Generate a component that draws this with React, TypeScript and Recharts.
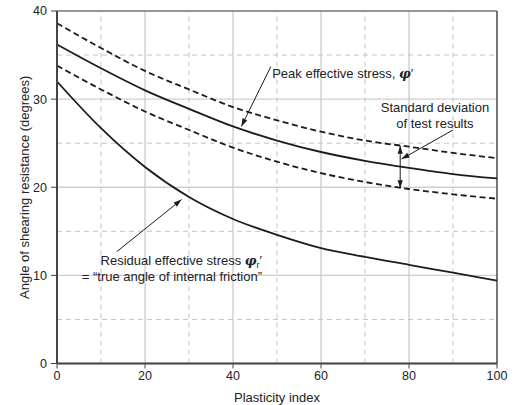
import React from 'react'
import {
  LineChart,
  Line,
  XAxis,
  YAxis,
  CartesianGrid,
  ReferenceLine,
  ReferenceDot,
} from 'recharts'

// plasticity index (x) and angle of shearing resistance in degrees (y)
const plasticity = [0, 10, 20, 30, 40, 50, 60, 70, 80, 90, 100]
const peakUpper = [38.6, 35.8, 33.2, 31.1, 29.1, 27.6, 26.3, 25.3, 24.6, 23.9, 23.3]
const peak = [36.2, 33.5, 31.0, 28.9, 26.9, 25.3, 24.0, 23.0, 22.2, 21.5, 21.0]
const peakLower = [33.8, 31.1, 28.6, 26.5, 24.5, 22.9, 21.6, 20.6, 19.8, 19.2, 18.7]
const residual = [32.0, 26.7, 22.3, 18.9, 16.4, 14.6, 13.1, 12.1, 11.2, 10.3, 9.4]

const xTicks = [0, 20, 40, 60, 80, 100]
const yTicks = [0, 10, 20, 30, 40]
const xMinor = [10, 30, 50, 70, 90]
const yMinor = [5, 15, 25, 35]

const data = plasticity.map((pi, i) => ({
  pi,
  upper: peakUpper[i],
  peak: peak[i],
  lower: peakLower[i],
  residual: residual[i],
}))

const INK = '#1c1c1c'
const FONT = '"Liberation Sans", Arial, Helvetica, sans-serif'

function head(x: number, y: number, fromX: number, fromY: number) {
  const a = Math.atan2(y - fromY, x - fromX)
  const len = 8
  const w = 2.6
  const bx = x - len * Math.cos(a)
  const by = y - len * Math.sin(a)
  const px = -Math.sin(a) * w
  const py = Math.cos(a) * w
  return `${x},${y} ${bx + px},${by + py} ${bx - px},${by - py}`
}

const arrowShape = (both: boolean) =>
  // eslint-disable-next-line @typescript-eslint/no-explicit-any
  (p: any) => {
    const { x1, y1, x2, y2 } = p
    return (
      <g>
        <line x1={x1} y1={y1} x2={x2} y2={y2} stroke={INK} strokeWidth={1} />
        <polygon points={head(x2, y2, x1, y1)} fill={INK} />
        {both && <polygon points={head(x1, y1, x2, y2)} fill={INK} />}
      </g>
    )
  }

const note =
  (lines: React.ReactNode[], anchor: 'start' | 'middle' | 'end', gap: number) =>
  // eslint-disable-next-line @typescript-eslint/no-explicit-any
  (p: any) => (
    <text x={p.cx} y={p.cy} textAnchor={anchor} fontSize={13} fill="#222" fontFamily={FONT}>
      {lines.map((l, i) => (
        <tspan key={i} x={p.cx} dy={i === 0 ? 0 : gap}>
          {l}
        </tspan>
      ))}
    </text>
  )

const phi = (
  <tspan fontStyle="italic" fontWeight="bold" fontFamily='"DejaVu Serif", serif'>
    φ
  </tspan>
)

export default function App() {
  return (
    <div style={{ position: 'absolute', left: 0, top: 0, background: '#fff' }}>
      <LineChart
        width={513}
        height={405}
        data={data}
        margin={{ top: 11, right: 16, left: 17, bottom: 0 }}
        style={{ fontFamily: FONT }}
      >
        <CartesianGrid stroke="#cfcfcf" strokeWidth={1.4} />
        {xMinor.map((v) => (
          <ReferenceLine key={`x${v}`} x={v} stroke="#c4c4c4" strokeDasharray="5 4" />
        ))}
        {yMinor.map((v) => (
          <ReferenceLine key={`y${v}`} y={v} stroke="#c4c4c4" strokeDasharray="5 4" />
        ))}
        <XAxis
          dataKey="pi"
          type="number"
          domain={[0, 100]}
          ticks={xTicks}
          height={41.5}
          tickSize={5}
          tickMargin={3}
          tick={{ fontSize: 12.5, fill: '#222' }}
          axisLine={{ stroke: '#444', strokeWidth: 2 }}
          tickLine={{ stroke: '#444' }}
          label={{
            value: 'Plasticity index',
            position: 'insideBottom',
            offset: 3,
            fontSize: 13,
            fill: '#222',
          }}
        />
        <YAxis
          type="number"
          domain={[0, 40]}
          ticks={yTicks}
          width={40}
          tickSize={6}
          tickMargin={4}
          tick={{ fontSize: 12.5, fill: '#222' }}
          axisLine={{ stroke: '#444', strokeWidth: 2 }}
          tickLine={{ stroke: '#444' }}
          label={{
            value: 'Angle of shearing resistance (degrees)',
            angle: -90,
            position: 'insideLeft',
            offset: 0,
            dx: 7,
            style: { textAnchor: 'middle' },
            fontSize: 13,
            fill: '#222',
          }}
        />
        <ReferenceLine y={40} stroke="#555" strokeWidth={1.2} />
        <ReferenceLine x={100} stroke="#555" strokeWidth={1.5} />

        <Line dataKey="upper" type="monotone" stroke={INK} strokeWidth={1.8} strokeDasharray="6 3.5" dot={false} isAnimationActive={false} />
        <Line dataKey="peak" type="monotone" stroke={INK} strokeWidth={1.8} dot={false} isAnimationActive={false} />
        <Line dataKey="lower" type="monotone" stroke={INK} strokeWidth={1.8} strokeDasharray="6 3.5" dot={false} isAnimationActive={false} />
        <Line dataKey="residual" type="monotone" stroke={INK} strokeWidth={1.8} dot={false} isAnimationActive={false} />

        <ReferenceLine segment={[{ x: 48.6, y: 33.7 }, { x: 41.9, y: 26.9 }]} shape={arrowShape(false)} />
        <ReferenceLine segment={[{ x: 90.0, y: 26.5 }, { x: 78.3, y: 23.2 }]} shape={arrowShape(false)} />
        <ReferenceLine segment={[{ x: 78.0, y: 24.7 }, { x: 78.0, y: 19.9 }]} shape={arrowShape(true)} />
        <ReferenceLine segment={[{ x: 13.6, y: 12.7 }, { x: 28.3, y: 18.6 }]} shape={arrowShape(false)} />

        <ReferenceDot
          x={48.9}
          y={32.4}
          shape={note([<>Peak effective stress, {phi}′</>], 'start', 0)}
        />
        <ReferenceDot
          x={85.9}
          y={28.5}
          shape={note(['Standard deviation', 'of test results'], 'middle', 15.3)}
        />
        <ReferenceDot
          x={46.6}
          y={11.2}
          shape={note(
            [
              <>
                Residual effective stress {phi}
                <tspan fontSize={9} dy={3}>r</tspan>
                <tspan dy={-3}>′</tspan>
              </>,
              '= “true angle of internal friction”',
            ],
            'end',
            16.6,
          )}
        />
      </LineChart>
    </div>
  )
}
